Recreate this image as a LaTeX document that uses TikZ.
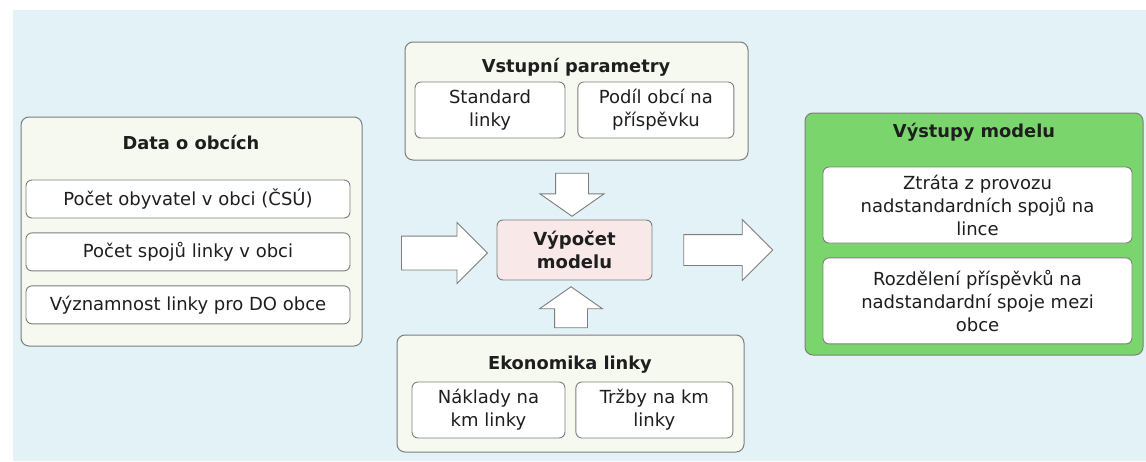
\documentclass[tikz,border=0pt]{standalone}
\usepackage{fontspec}
\setmainfont{DejaVu Sans}
\usepackage{xcolor}
\usetikzlibrary{positioning,shapes.arrows}
\definecolor{bgblue}{RGB}{226,242,247}
\definecolor{panelfill}{RGB}{246,249,240}
\definecolor{outgreen}{RGB}{122,214,108}
\definecolor{calcpink}{RGB}{248,232,232}
\definecolor{edgegray}{RGB}{125,125,125}
\definecolor{txt}{RGB}{30,30,30}

\begin{document}
\begin{tikzpicture}[x=1pt,y=-1pt]
        \tikzset{panel/.style={draw=edgegray, fill=panelfill, rectangle, rounded corners=8pt, line width=1pt, inner sep=0pt},
        title/.style={font=\bfseries\fontsize{17.8}{22}\selectfont, text=txt, align=center},
        item/.style={draw=edgegray, fill=white, rectangle, rounded corners=6pt, line width=0.9pt, align=center,
                text=txt, font=\fontsize{18}{23}\selectfont, inner sep=0pt},
        fatarrow/.style={draw=edgegray, fill=white, single arrow, line width=0.9pt, inner xsep=0pt,
                single arrow tip angle=90},
        }
        \useasboundingbox (0,0) rectangle (1146,461);
        \fill[bgblue] (13,10) rectangle (1146,461);

%% containers
        \node [panel, minimum width=341pt, minimum height=229pt] (data) at (191.5,231.5) {};
        \node [panel, minimum width=343pt, minimum height=118pt] (param) at (576.5,101) {};
        \node [panel, minimum width=347pt, minimum height=117pt] (econ) at (570.5,393.5) {};
        \node [panel, fill=outgreen, minimum width=338pt, minimum height=242pt] (out) at (974,234) {};
        \node [item, fill=calcpink, font=\bfseries\fontsize{18}{23}\selectfont, minimum width=155pt, minimum height=60pt] (calc) at (574.5,250) {Výpočet\\modelu};

%% titles
        \node [title] (dataT) at (191,143) {Data o obcích};
        \node [title] (paramT) at (576,67) {Vstupní parametry};
        \node [title] (econT) at (570,365) {Ekonomika linky};
        \node [title] (outT) at (974,132) {Výstupy modelu};

%% inner boxes
        \node [item, minimum width=324pt, minimum height=38pt] (pop) at (188,199) {Počet obyvatel v obci (ČSÚ)};
        \node [item, minimum width=324pt, minimum height=38pt, below=14pt of pop] (trips) {Počet spojů linky v obci};
        \node [item, minimum width=324pt, minimum height=38pt, below=14pt of trips] (weight) {Významnost linky pro DO obce};
        \node [item, minimum width=150pt, minimum height=56pt] (std) at (490,110) {Standard\\linky};
        \node [item, minimum width=156pt, minimum height=56pt, right=12pt of std] (share) {Podíl obcí na\\příspěvku};
        \node [item, minimum width=153pt, minimum height=56pt] (cost) at (488.5,410) {Náklady na\\km linky};
        \node [item, minimum width=157pt, minimum height=56pt, right=10pt of cost] (rev) {Tržby na km\\linky};
        \node [item, minimum width=309pt, minimum height=76pt] (loss) at (977.5,205) {Ztráta z provozu\\nadstandardních spojů na\\lince};
        \node [item, minimum width=309pt, minimum height=86pt, below=14pt of loss] (split) {Rozdělení příspěvků na\\nadstandardní spoje mezi\\obce};

%% block arrows
        \node [fatarrow, inner ysep=16.5pt, minimum height=86pt, minimum width=60pt, single arrow head extend=13.5pt] (feedL) at (436,253) {};
        \node [fatarrow, inner ysep=15pt, minimum height=89pt, minimum width=60pt, single arrow head extend=15pt] (feedR) at (720.5,250) {};
        \node [fatarrow, rotate=-90, inner ysep=16pt, single arrow tip angle=110, minimum height=43pt, minimum width=63pt, single arrow head extend=15.5pt] (feedT) at (572,189) {};
        \node [fatarrow, rotate=90, inner ysep=16pt, single arrow tip angle=110, minimum height=41pt, minimum width=62pt, single arrow head extend=15pt] (feedB) at (571,313) {};
    \end{tikzpicture}
\end{document}
